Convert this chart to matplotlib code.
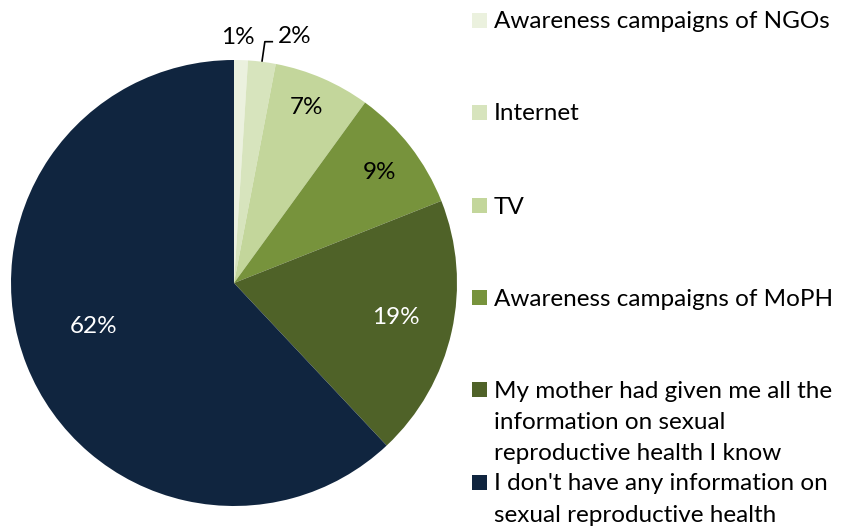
import numpy as np
import matplotlib.pyplot as plt
from matplotlib.patches import Rectangle

plt.rcParams['font.family'] = ['Lato', 'DejaVu Sans']

# Sources of information on sexual reproductive health (percent of respondents)
categories = [
    "Awareness campaigns of NGOs",
    "Internet",
    "TV",
    "Awareness campaigns of MoPH",
    "My mother had given me all the\ninformation on sexual\nreproductive health I know",
    "I don't have any information on\nsexual reproductive health",
]
shares = [1, 2, 7, 9, 19, 62]
pct_labels = ["1%", "2%", "7%", "9%", "19%", "62%"]
colors = ["#EBF1DE", "#D7E4BD", "#C3D69B", "#77933C", "#4F6228", "#10253F"]
label_colors = ["black", "black", "black", "black", "white", "white"]

W, H = 842, 527
fig = plt.figure(figsize=(W / 100, H / 100), dpi=100)

# pie occupies a square box of 446 px, centre at (234, 283)
cx, cy, R = 234, 283, 223
ax = fig.add_axes([(cx - R) / W, (H - cy - R) / H, 2 * R / W, 2 * R / H])
wedges, _ = ax.pie(shares, colors=colors, startangle=90, counterclock=False,
                   radius=1, wedgeprops=dict(linewidth=0))
ax.set_xlim(-1, 1)
ax.set_ylim(-1, 1)
ax.set_aspect('auto')
ax.axis('off')

# label radius per slice (fraction of the pie radius)
label_r = [1.10, 1.14, 0.85, 0.82, 0.74, 0.66]
label_shift = [-1.0, 6.5, -1.0, 0.6, -0.6, 4.4]  # degrees, clockwise from slice middle
cum = np.cumsum([0] + shares)
for i, w in enumerate(wedges):
    mid = (cum[i] + cum[i + 1]) / 2 / sum(shares) * 360 + label_shift[i]
    a = np.deg2rad(mid)
    x, y = label_r[i] * np.sin(a), label_r[i] * np.cos(a)
    ax.text(x, y, pct_labels[i], ha='center', va='center', fontsize=17.5,
            color=label_colors[i], clip_on=False)

# leader line for the 2% slice
a2 = np.deg2rad((cum[1] + cum[2]) / 2 / sum(shares) * 360)
ex, ey = np.sin(a2), np.cos(a2)
ax.plot([ex, ex + 0.013, ex + 0.05], [ey, ey + 0.09, ey + 0.09],
        color='black', lw=1.2, clip_on=False, solid_capstyle='butt')

# legend on the right, one text line at a time
legend_y = [20, 112, 205, 297, 389, 482]
line_step = 31.5
for lab, col, yy in zip(categories, colors, legend_y):
    fig.patches.append(Rectangle(((472) / W, (H - yy - 7.5) / H), 15 / W, 15 / H,
                                 transform=fig.transFigure, facecolor=col,
                                 edgecolor='none'))
    for k, line in enumerate(lab.split("\n")):
        fig.text(494 / W, (H - yy - k * line_step) / H, line, ha='left',
                 va='center_baseline', fontsize=17.5, color='black',
                 transform=fig.transFigure)

fig.savefig("out.png", dpi=100)
